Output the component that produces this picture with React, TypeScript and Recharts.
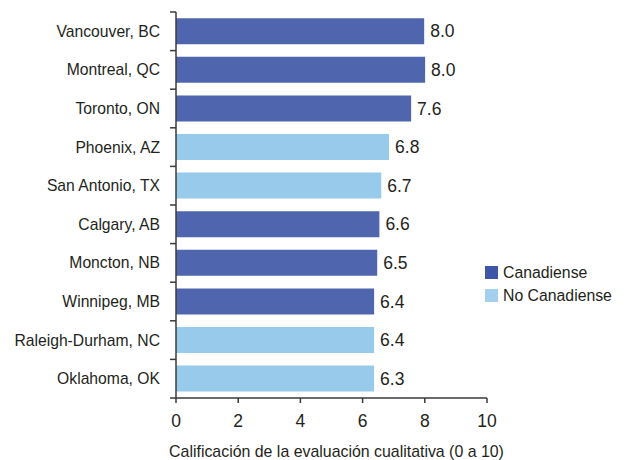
import React from "react";
import { BarChart, Bar, XAxis, YAxis, Cell, LabelList, Legend } from "recharts";

const cities = [
  "Vancouver, BC",
  "Montreal, QC",
  "Toronto, ON",
  "Phoenix, AZ",
  "San Antonio, TX",
  "Calgary, AB",
  "Moncton, NB",
  "Winnipeg, MB",
  "Raleigh-Durham, NC",
  "Oklahoma, OK",
];
const scores = [7.98, 8.01, 7.56, 6.85, 6.6, 6.54, 6.47, 6.37, 6.37, 6.37];
const scoreLabels = ["8.0", "8.0", "7.6", "6.8", "6.7", "6.6", "6.5", "6.4", "6.4", "6.3"];
const isCanadian = [true, true, true, false, false, true, true, true, false, false];
const groups = ["Canadiense", "No Canadiense"];
const xTicks = [0, 2, 4, 6, 8, 10];
const xTitle = "Calificación de la evaluación cualitativa (0 a 10)";

const DARK = "#4F66AF";
const LIGHT = "#98CAEC";
const LEGEND_COLORS = ["#3D56A6", "#A4CFEF"];
const TEXT = "#231F20";
const AXIS = "#3A3A3A";
const FONT = "'Liberation Sans', Arial, Helvetica, sans-serif";

const data = cities.map((city, i) => ({
  city,
  score: scores[i],
  label: scoreLabels[i],
  canadian: isCanadian[i],
}));

const CityTick = (props: any) => {
  const { x, y, payload, index } = props;
  const half = payload && payload.offset ? payload.offset : 19.3;
  const axisX = x + 16;
  return (
    <g>
      <line x1={axisX - 6} x2={axisX} y1={y - half} y2={y - half} stroke={AXIS} strokeWidth={1.5} />
      {index === cities.length - 1 && (
        <line x1={axisX - 6} x2={axisX} y1={y + half} y2={y + half} stroke={AXIS} strokeWidth={1.5} />
      )}
      <text x={x} y={y} dy="0.35em" textAnchor="end" fill={TEXT} fontSize={15.7} fontFamily={FONT}>
        {payload.value}
      </text>
    </g>
  );
};

const ValueLabel = (props: any) => {
  const { x, y, width, height, index } = props;
  return (
    <text
      x={x + width + 6}
      y={y + height / 2}
      dy="0.36em"
      textAnchor="start"
      fill={TEXT}
      fontSize={17.5}
      fontFamily={FONT}
    >
      {scoreLabels[index]}
    </text>
  );
};

const LegendContent = () => (
  <div style={{ fontFamily: FONT, fontSize: 15.8, color: TEXT }}>
    {groups.map((g, i) => (
      <div key={g} style={{ display: "flex", alignItems: "center", height: 23 }}>
        <span
          style={{
            display: "inline-block",
            width: 13,
            height: 13,
            background: LEGEND_COLORS[i],
            marginRight: 5,
          }}
        />
        <span>{g}</span>
      </div>
    ))}
  </div>
);

export default function App() {
  return (
    <div style={{ position: "absolute", left: 0, top: 0, width: 626, height: 460, background: "#fff" }}>
      <BarChart
        width={626}
        height={460}
        data={data}
        layout="vertical"
        margin={{ top: 12, right: 139, left: 0, bottom: 0 }}
        barCategoryGap="16%"
      >
        <XAxis
          type="number"
          domain={[0, 10]}
          ticks={xTicks}
          height={62}
          tickSize={5}
          tickMargin={12}
          stroke={AXIS}
          strokeWidth={1.5}
          tick={{ fill: TEXT, fontSize: 17.5, fontFamily: FONT }}
          tickLine={{ stroke: AXIS, strokeWidth: 1.5 }}
          label={{
            value: xTitle,
            position: "insideBottom",
            offset: 3,
            dx: 5,
            fill: TEXT,
            fontSize: 15.9,
            fontFamily: FONT,
          }}
        />
        <YAxis
          type="category"
          dataKey="city"
          width={176}
          interval={0}
          tickSize={6}
          tickMargin={10}
          tickLine={false}
          stroke={AXIS}
          strokeWidth={1.5}
          tick={<CityTick />}
        />
        <Legend
          layout="vertical"
          align="center"
          verticalAlign="middle"
          content={<LegendContent />}
          wrapperStyle={{ left: 485, top: 261, width: 140, height: 46 }}
        />
        <Bar dataKey="score" isAnimationActive={false}>
          {data.map((d, i) => (
            <Cell key={i} fill={d.canadian ? DARK : LIGHT} />
          ))}
          <LabelList dataKey="label" content={<ValueLabel />} />
        </Bar>
      </BarChart>
    </div>
  );
}
